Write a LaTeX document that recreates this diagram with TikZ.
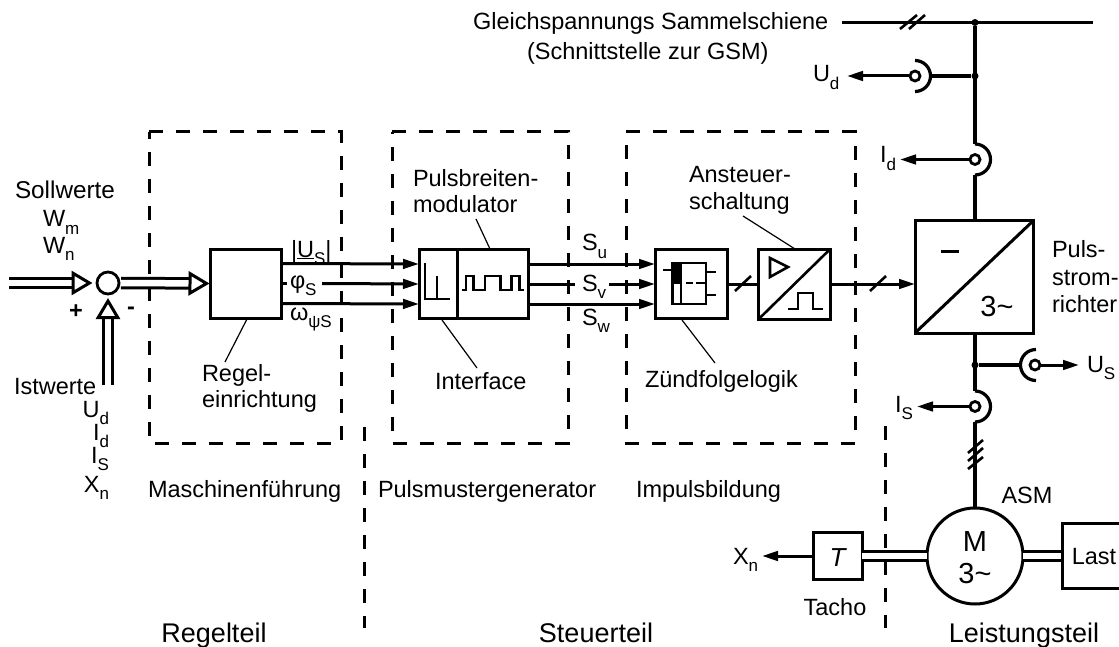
\documentclass[tikz,border=0pt]{standalone}
\usepackage{fontspec}
\setmainfont{Liberation Sans}
\usetikzlibrary{arrows.meta}
\newcommand\sbs[1]{\raisebox{-0.3em}{\fontsize{17}{17}\selectfont #1}}
\tikzset{
  lbl/.style={anchor=base west,inner sep=0pt,outer sep=0pt,font=\fontsize{23.5}{27}\selectfont},
  lblc/.style={lbl,anchor=base},
  lble/.style={lbl,anchor=base east},
  big/.style={font=\fontsize{27}{30}\selectfont},
  huge/.style={font=\fontsize{29}{32}\selectfont},
  blk/.style={draw,line width=3pt,inner sep=0pt,outer sep=0pt,fill=white},
  wire/.style={line width=3.2pt},
  sig/.style={line width=3pt,-{Triangle[length=16pt,width=9.5pt]}},
  tick/.style={line width=2.6pt},
  thin leader/.style={line width=1.2pt},
  sym/.style={line width=2.6pt},
  box dash/.style={line width=3pt,dash pattern=on 14pt off 13pt},
  fat/.style={line width=3pt,double=white,double distance=6.5pt,-{Triangle[open,length=21pt,width=24pt,fill=white,line width=3pt]}},
  shaft/.style={line width=3pt,double=white,double distance=6pt},
  dot/.style={circle,fill=black,inner sep=0pt,minimum size=7pt},
  tap/.style={circle,draw,line width=2.8pt,fill=white,inner sep=0pt,minimum size=10pt},
  x=1pt,y=-1pt}
\begin{document}
\begin{tikzpicture}
\useasboundingbox (0,0) rectangle (1119,647);
% dashed frames
\draw[box dash] (149,132) -- (341,132) -- (341,443) -- (149,443) -- cycle;
\draw[box dash] (392,132) -- (568,132) -- (568,443) -- (392,443) -- cycle;
\draw[box dash] (626,132) -- (855,132) -- (855,443) -- (626,443) -- cycle;
\coordinate (d1a) at (364,427); \coordinate (d1b) at (364,628);
\coordinate (d2a) at (885,426); \coordinate (d2b) at (885,628);
\draw[box dash] (d1a) -- (d1b);
\draw[box dash] (d2a) -- (d2b);
% input
\node[circle,draw,line width=2.8pt,minimum size=22pt,inner sep=0pt,outer sep=0pt] (sum) at (108,283) {};
\coordinate (in1) at (9,283);
\coordinate (in2) at (108,385);
\node[blk,minimum width=71pt,minimum height=69pt] (regel) at (246,283.5) {};
\draw[fat] (in1) -- ([xshift=-4.5pt]sum.west);
\draw[fat] (in2) -- ([yshift=-4pt]sum.south);
\draw[fat] ([xshift=2pt]sum.east) -- ([xshift=-1pt]regel.west);
% blocks
\node[blk,minimum width=38pt,minimum height=69pt] (iface) at (438,284) {};
\node[blk,minimum width=71pt,minimum height=69pt] (pwm) at (492.5,284) {};
\node[blk,minimum width=72pt,minimum height=69pt] (zuend) at (691,284) {};
\node[blk,minimum width=71.5pt,minimum height=70pt] (anst) at (794.5,284) {};
\node[blk,minimum width=118pt,minimum height=112pt] (conv) at (974,277) {};
% signal lines
\draw[sig] ([yshift=20pt]regel.east) -- ([yshift=20pt]iface.west);
\draw[line width=3pt] (regel.east) -- ++(5,0);
\coordinate (phi) at (322,283.5);
\draw[sig] (phi) -- (iface.west);
\draw[sig] ([yshift=-20pt]regel.east) -- ([yshift=-20pt]iface.west);
\draw[sig] ([yshift=20pt]pwm.east) -- ([yshift=20pt]zuend.west);
\coordinate (sva) at (575,284); \coordinate (svb) at (609,284);
\draw[line width=3pt] (pwm.east) -- (sva);
\draw[sig] (svb) -- (zuend.west);
\draw[sig] ([yshift=-20pt]pwm.east) -- ([yshift=-20pt]zuend.west);
\draw[line width=3pt] (zuend.east) -- (anst.west);
\draw[tick] (735,291) -- (751,276);
\draw[sig] (anst.east) -- (conv.west|-anst.east);
\draw[tick] (870,291) -- (886,276);
% interface symbol
\draw[sym] (425,263) -- (425,299) -- (450,299) (437,276) -- (437,299);
\draw[sym] (462,290) -- (466,290) -- (466,276) -- (473.3,276) -- (473.3,290) -- (485,290) -- (485,276) -- (500.7,276) -- (500.7,290) -- (511.7,290) -- (511.7,276) -- (519.3,276) -- (519.3,290) -- (524.3,290);
% Zuendfolge symbol
\draw[sym] (672.7,263) rectangle (706,304);
\fill (672.7,263) rectangle (682,284);
\draw[sym] (681,284) -- (681,304);
\draw[sym] (663,270) -- (673,270) (706,272) -- (716,272) (706,295) -- (716,295);
\draw[sym] (686,283) -- (693,283) (696,283) -- (706,283);
% driver symbol
\draw[sym] (anst.south west) -- (anst.north east);
\draw[sym] (770,258) -- (770,277) -- (788,267) -- cycle;
\draw[sym] (788,309) -- (798,309) -- (798,293) -- (813,293) -- (813,309) -- (823,309);
% converter
\draw[line width=3pt] (conv.south west) -- (conv.north east);
\draw[line width=3pt] (941,251) -- (959,251);
% bus
\coordinate (busa) at (842,22.5); \coordinate (busb) at (1093,22.5);
\node[dot] (j1) at (975,22.5) {};
\node[dot] (j2) at (975,76) {};
\node[dot] (j3) at (975,365) {};
\draw[wire] (busa) -- (busb);
\draw[tick] (900,29) -- (917,15) (909,29) -- (925,15);
% vertical main
\coordinate (ida) at (975,144);
\coordinate (idb) at (975,175);
\coordinate (isa) at (975,391);
\coordinate (isb) at (975,422);
\node[circle,draw,line width=3pt,inner sep=0pt,outer sep=0pt,minimum size=96pt] (mot) at (975,556) {};
\draw[wire] (j1) -- (ida);
\draw[wire] (ida) arc[start angle=90,end angle=-90,radius=15.5pt];
\draw[wire] (idb) -- (conv.north-|idb);
\draw[wire] (conv.south-|isa) -- (isa);
\draw[wire] (isa) arc[start angle=90,end angle=-90,radius=15.5pt];
\draw[wire] (isb) -- (mot.north);
\draw[tick] (968,453) -- (983,440) (968,461) -- (983,448) (968,469) -- (983,457);
% U_d tap
\node[tap] (ud) at (915,76) {};
\coordinate (udt) at (915,60.5);
\draw[wire] (j2) -- (930.5,76);
\draw[wire] (udt) arc[start angle=90,end angle=-90,radius=15.5pt];
\coordinate (udl) at (847,76);
\draw[sig] (ud) -- (udl);
% I_d tap
\node[tap] (id) at (975,159.5) {};
\coordinate (idl) at (900,159.5);
\draw[sig] (id) -- (idl);
% U_S tap
\node[tap] (us) at (1035,365) {};
\coordinate (ust) at (1036,349.5);
\draw[wire] (j3) -- (1020.5,365);
\draw[wire] (ust) arc[start angle=90,end angle=270,radius=15.5pt];
\coordinate (usr) at (1079,365);
\draw[sig] (us) -- (usr);
% I_S tap
\node[tap] (is) at (975,406.5) {};
\coordinate (isl) at (917,406.5);
\draw[sig] (is) -- (isl);
% motor group
\node[blk,minimum width=49pt,minimum height=47pt] (tacho) at (837.5,556) {};
\coordinate (xnl) at (762,556);
\draw[sig] (tacho.west) -- (xnl);
\draw[shaft] (tacho.east) -- (mot.west);
\coordinate (lastc) at (1062,556);
\draw[shaft] (mot.east) -- (lastc);
\draw[line width=3pt] (1119,523) -- (1062,523) -- (1062,588) -- (1119,588);
% leaders
\draw[thin leader] (247,319) -- (225,362);
\draw[thin leader] (476,219) -- (490,249);
\draw[thin leader] (442,320) -- (477,368);
\draw[thin leader] (743,216) -- (795,249);
\draw[thin leader] (682,320) -- (715,363);
% texts
\node[lbl] (t1) at (473,30) {Gleichspannungs Sammelschiene};
\node[lbl] (t2) at (527,60) {(Schnittstelle zur GSM)};
\node[lbl,font=\fontsize{24.3}{27}\selectfont] (t3) at (15,199) {Sollwerte};
\node[lbl] (t4) at (43,227) {W\sbs{m}};
\node[lbl] (t5) at (43,253) {W\sbs{n}};
\node[lblc,font=\fontsize{23.5}{27}\selectfont\bfseries] (t6) at (76,318) {+};
\node[lblc,font=\fontsize{23.5}{27}\selectfont\bfseries] (t7) at (131,314) {-};
\node[lbl] (t8) at (14,394) {Istwerte};
\node[lble] (t9) at (109,417) {U\sbs{d}};
\node[lble] (t10) at (109,440) {I\sbs{d}};
\node[lble] (t11) at (109,463) {I\sbs{S}};
\node[lble] (t12) at (109,492) {X\sbs{n}};
\node[lbl] (t13) at (291,257) {|\underline{U}\sbs{S}|};
\node[lbl] (t14) at (290,288) {φ\sbs{S}};
\node[lbl] (t15) at (290,320) {ω\sbs{ψS}};
\node[lbl] (t16) at (582,251) {S\sbs{u}};
\node[lbl] (t17) at (582,291) {S\sbs{v}};
\node[lbl] (t18) at (582,325) {S\sbs{w}};
\node[lbl] (t19) at (202,381) {Regel-};
\node[lbl] (t20) at (202,407) {einrichtung};
\node[lbl] (t21) at (413,187) {Pulsbreiten-};
\node[lbl] (t22) at (413,213) {modulator};
\node[lbl] (t23) at (435,389) {Interface};
\node[lbl] (t24) at (689,183) {Ansteuer-};
\node[lbl] (t25) at (689,210) {schaltung};
\node[lbl] (t26) at (645,387) {Zündfolgelogik};
\node[lbl] (t27) at (148,497) {Maschinenführung};
\node[lbl] (t28) at (378,497) {Pulsmustergenerator};
\node[lbl] (t29) at (636,497) {Impulsbildung};
\node[lblc,big] (t30) at (214,642) {Regelteil};
\node[lblc,big] (t31) at (596,642) {Steuerteil};
\node[lblc,big] (t32) at (1024,642) {Leistungsteil};
\node[lbl] (t33) at (813,82) {U\sbs{d}};
\node[lbl] (t34) at (880,163) {I\sbs{d}};
\node[lbl] (t35) at (1087,372) {U\sbs{S}};
\node[lbl] (t36) at (895,412) {I\sbs{S}};
\node[lbl] (t37) at (733,564) {X\sbs{n}};
\node[lbl] (t38) at (1052,258) {Puls-};
\node[lbl] (t39) at (1052,285) {strom-};
\node[lbl] (t40) at (1052,312) {richter};
\node[lblc,huge] (t41) at (997,316) {3\textasciitilde};
\node[lblc] (t42) at (1027,503) {ASM};
\node[lblc,huge] (t43) at (975,551) {M};
\node[lblc,huge] (t44) at (975,583) {3\textasciitilde};
\node[lblc] (t45) at (1094,564) {Last};
\node[lblc,font=\fontsize{26}{29}\selectfont\itshape] (t46) at (837.5,566) {T};
\node[lblc] (t47) at (835,615) {Tacho};
\end{tikzpicture}
\end{document}
